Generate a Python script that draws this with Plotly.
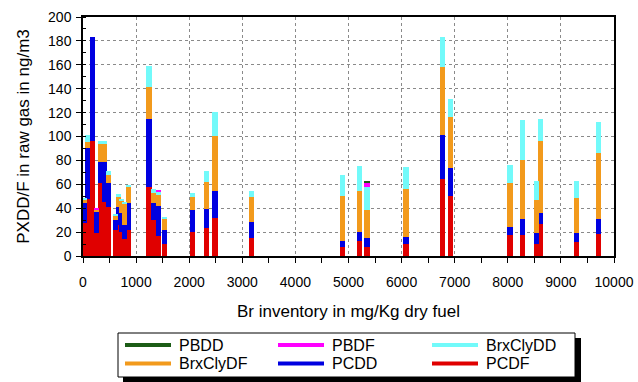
import plotly.graph_objects as go

# Br inventory (mg/Kg dry fuel) for each measurement
br = [30, 90, 185, 260, 330, 400, 480, 610, 670, 730, 790, 850,
      1243, 1324, 1418, 1531, 2065, 2329, 2486, 3177, 4884, 5204, 5348,
      6083, 6767, 6918, 8041, 8280, 8544, 8620, 9297, 9705]

pcdf = [28, 48, 96, 19, 61, 45, 41, 22, 26, 20, 14, 22,
        58, 30, 17, 10, 19.8, 23.7, 31.5, 14.8, 7.8, 12.8, 7.8,
        9.8, 64.7, 50.2, 17.6, 17.6, 10, 26.8, 11.4, 18.4]
pcdd = [16, 42, 87, 18, 18, 34, 20, 8, 15, 16, 12, 22,
        56.4, 14, 25, 12, 18.7, 15.3, 23.2, 13.9, 4.7, 7.2, 7,
        6.4, 36.3, 23.8, 6.9, 13.4, 9, 9.2, 8.1, 12.3]
brxcly_df = [3, 5, 0, 2, 15, 15, 7, 4, 8, 10, 18, 14,
             26.8, 9, 9, 9, 11.1, 23.2, 45.7, 20.4, 37.7, 34.4, 23.7,
             39.6, 57.4, 42, 36.5, 49, 28, 60.5, 29.3, 55.8]
brxcly_dd = [1, 6, 0, 0, 2, 2, 3, 1, 3, 2, 1, 1,
             17.8, 3, 3, 1, 2.8, 9.2, 20.4, 5.3, 17.6, 20.9, 19,
             19, 24.6, 15.4, 15, 33.8, 16, 18.1, 14.2, 25.3]
pbdf = [0, 0, 0, 1.5, 0, 0, 0, 0, 0, 0, 0, 0,
        0, 0, 1, 0, 0, 0, 0, 0, 0, 0, 3.9,
        0, 0, 0, 0, 0, 0, 0, 0, 0]
pbdd = [0, 0, 0, 0, 0, 0, 0, 0, 0, 0, 0, 0,
        0, 0, 0, 0, 0, 0, 0, 0, 0, 0, 0.8,
        0, 0, 0, 0, 0, 0, 0, 0, 0]

x_ticks = list(range(0, 10001, 1000))
y_ticks = list(range(0, 201, 20))

series = [
    ("PCDF", pcdf, "#e00000"),
    ("PCDD", pcdd, "#0000e0"),
    ("BrxClyDF", brxcly_df, "#f29a1c"),
    ("BrxClyDD", brxcly_dd, "#72fafa"),
    ("PBDF", pbdf, "#ff00ff"),
    ("PBDD", pbdd, "#1c5c16"),
]
colors = {n: c for n, _, c in series}
legend_order = ["PBDD", "PBDF", "BrxClyDD", "BrxClyDF", "PCDD", "PCDF"]

fig = go.Figure()
for name, vals, col in series:
    fig.add_trace(go.Bar(x=br, y=vals, width=95, name=name, showlegend=False,
                         marker=dict(color=col, line=dict(width=0))))

# ---- layout geometry (pixels) ----
W, H = 638, 382
L, R, T, B = 83, 24, 17, 126
pw, ph = W - L - R, H - T - B


def px(x):
    return (x - L) / pw


def py(y):
    return (H - B - y) / ph


# legend drawn as a framed box with line samples (as in the reference)
shapes = [
    dict(type="rect", xref="paper", yref="paper", x0=px(123), x1=px(581),
         y0=py(382), y1=py(338), fillcolor="black", line=dict(width=0), layer="above"),
    dict(type="rect", xref="paper", yref="paper", x0=px(118), x1=px(575),
         y0=py(377), y1=py(333), fillcolor="white",
         line=dict(color="black", width=1), layer="above"),
]
annotations = []
col_x = [125, 278, 432]
row_y = [345, 363.5]
for i, name in enumerate(legend_order):
    r, c = divmod(i, 3)
    shapes.append(dict(type="line", xref="paper", yref="paper",
                       x0=px(col_x[c]), x1=px(col_x[c] + 46),
                       y0=py(row_y[r]), y1=py(row_y[r]),
                       line=dict(color=colors[name], width=4), layer="above"))
    annotations.append(dict(text=name, xref="paper", yref="paper",
                            x=px(col_x[c] + 52), y=py(row_y[r]),
                            xanchor="left", yanchor="middle", showarrow=False,
                            font=dict(size=16)))

font_family = "Liberation Sans, Arial, sans-serif"
fig.update_layout(
    width=W, height=H,
    margin=dict(l=L, r=R, t=T, b=B, autoexpand=False),
    barmode="stack", showlegend=False,
    plot_bgcolor="white", paper_bgcolor="white",
    font=dict(family=font_family, color="black", size=14),
    shapes=shapes, annotations=annotations,
)
fig.update_xaxes(
    range=[0, 10000], tickvals=x_ticks, ticktext=[str(v) for v in x_ticks],
    ticks="outside", ticklen=5, tickcolor="black", tickfont=dict(size=14),
    ticklabelstandoff=7,
    showline=True, linecolor="black", linewidth=1.5, mirror=True,
    showgrid=True, gridcolor="#8a8a8a", griddash="dot", gridwidth=1, zeroline=False,
    minor=dict(dtick=500, tick0=0, ticks="outside", ticklen=5, tickcolor="black", showgrid=False),
    title=dict(text="Br inventory in mg/Kg dry fuel", font=dict(size=17), standoff=17),
)
fig.update_yaxes(
    range=[0, 200], tickvals=y_ticks, ticktext=[str(v) for v in y_ticks],
    ticks="outside", ticklen=5, tickcolor="black", tickfont=dict(size=14),
    ticklabelstandoff=2,
    showline=True, linecolor="black", linewidth=1.5, mirror=True,
    showgrid=True, gridcolor="#8a8a8a", griddash="dot", gridwidth=1, zeroline=False,
    minor=dict(dtick=10, tick0=0, ticks="inside", ticklen=3, tickcolor="black", showgrid=False),
    title=dict(text="PXDD/F in raw gas in ng/m3", font=dict(size=17), standoff=14),
)

fig.write_html("out.html", config={"displayModeBar": False},
               post_script="document.body.style.margin='0';")
